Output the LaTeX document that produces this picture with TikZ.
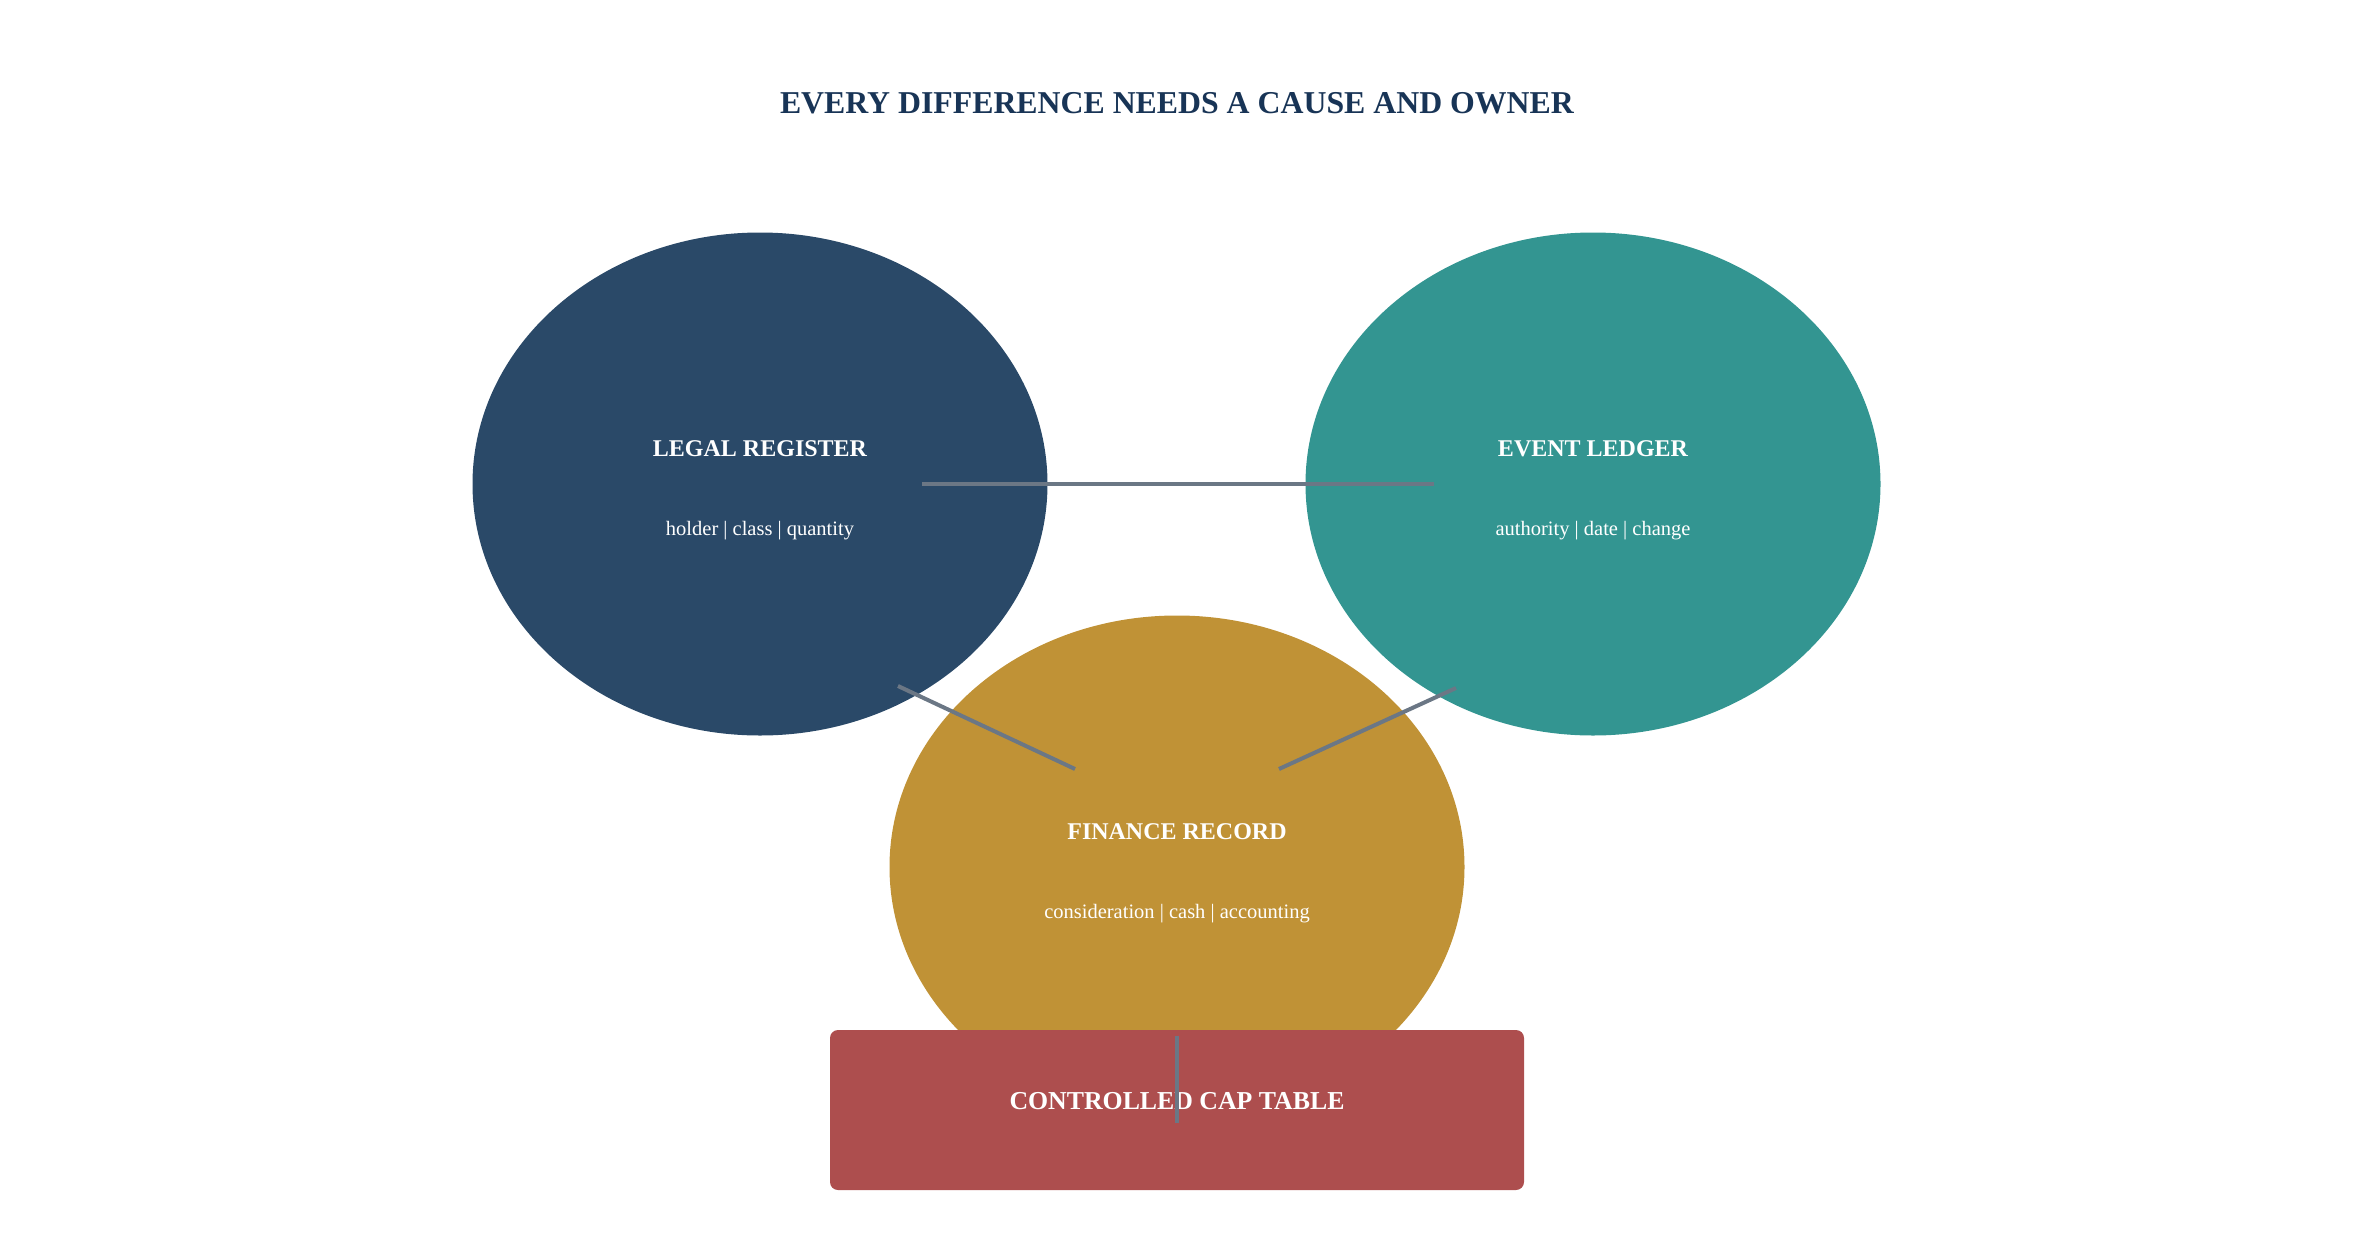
\documentclass[tikz,border=0pt]{standalone}
\usepackage{fontspec}
\setmainfont{Liberation Serif}
\usetikzlibrary{shapes.geometric,calc}
\definecolor{legalc}{RGB}{42,73,104}
\definecolor{eventc}{RGB}{51,149,145}
\definecolor{financec}{RGB}{192,146,54}
\definecolor{capc}{RGB}{173,78,78}
\definecolor{titlec}{RGB}{24,52,86}
\definecolor{linec}{RGB}{107,119,133}
\tikzset{
  blob/.style={ellipse, draw=none, minimum width=575pt, minimum height=503pt, inner sep=0pt},
  headtxt/.style={text=white, font=\fontsize{24}{28}\selectfont\bfseries, inner sep=0pt},
  subtxt/.style={text=white, font=\fontsize{20.5}{24}\selectfont, inner sep=0pt},
  conn/.style={draw=linec, line width=4pt, line cap=butt},
  capbox/.style={rectangle, rounded corners=8pt, fill=capc, minimum width=694pt, minimum height=160pt, inner sep=0pt}
}
\begin{document}
\begin{tikzpicture}[x=1pt,y=-1pt]
\useasboundingbox (0,0) rectangle (2354,1253);
\node[text=titlec, font=\fontsize{31.8}{36}\selectfont\bfseries, inner sep=0pt] (title) at (1177,103) {EVERY DIFFERENCE NEEDS A CAUSE AND OWNER};
\node[blob, fill=legalc] (legal) at (760,484) {};
\node[blob, fill=eventc] (event) at (1593,484) {};
\node[blob, fill=financec] (finance) at (1177,867) {};
\node[capbox] (captable) at (1177,1110) {};
\node[headtxt] (legalh) at ($(legal)+(0,-35.5)$) {LEGAL REGISTER};
\node[subtxt] (legals) at ($(legal)+(0,46.5)$) {holder | class | quantity};
\node[headtxt] (eventh) at ($(event)+(0,-35.5)$) {EVENT LEDGER};
\node[subtxt] (events) at ($(event)+(0,46.5)$) {authority | date | change};
\node[headtxt] (financeh) at ($(finance)+(0,-35.5)$) {FINANCE RECORD};
\node[subtxt] (finances) at ($(finance)+(0,46.5)$) {consideration | cash | accounting};
\node[headtxt, font=\fontsize{25.8}{30}\selectfont\bfseries] (caph) at ($(captable)+(0,-9)$) {CONTROLLED CAP TABLE};
\draw[conn] ($(legal)+(162,0)$) -- ($(event)+(-159,0)$);
\draw[conn] ($(legal)+(138,202)$) -- ($(finance)+(-102,-98)$);
\draw[conn] ($(event)+(-137,204)$) -- ($(finance)+(102,-98)$);
\draw[conn] ($(finance)+(0,169)$) -- ($(captable)+(0,13)$);
\end{tikzpicture}
\end{document}
